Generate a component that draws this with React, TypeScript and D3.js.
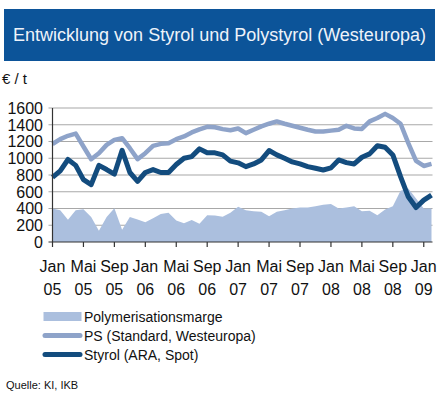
import React, { useEffect, useRef } from 'react';
import * as d3 from 'd3';

// monthly values, Jan 05 .. Feb 09
const psValues = [
  1170, 1228, 1268, 1295, 1140, 988, 1060, 1160, 1220, 1240, 1120, 990,
  1060, 1148, 1172, 1180, 1228, 1260, 1308, 1345, 1375, 1370, 1348, 1335,
  1355, 1300, 1340, 1380, 1412, 1440, 1412, 1388, 1364, 1340, 1320, 1320,
  1330, 1340, 1388, 1356, 1350, 1440, 1480, 1530, 1480, 1412, 1180, 968,
  908, 932,
];

const styrolValues = [
  772, 850, 985, 915, 745, 685, 915, 865, 810, 1095, 830, 725,
  830, 865, 830, 830, 925, 1000, 1020, 1112, 1065, 1065, 1040, 965,
  945, 900, 932, 980, 1092, 1040, 1000, 956, 932, 900, 880, 860,
  885, 980, 948, 932, 1012, 1052, 1150, 1132, 1040, 780, 540, 412,
  500, 560,
];

const margeValues = [
  400, 380, 265, 380, 390, 300, 135, 300, 402, 145, 300, 270,
  235, 283, 335, 350, 258, 225, 262, 218, 320, 315, 302, 348,
  420, 380, 368, 360, 308, 360, 380, 400, 412, 412, 428, 444,
  455, 400, 412, 428, 368, 372, 320, 388, 428, 612, 640, 520,
  400, 400,
];

const tickMonths = ['Jan', 'Mai', 'Sep', 'Jan', 'Mai', 'Sep', 'Jan', 'Mai', 'Sep', 'Jan', 'Mai', 'Sep', 'Jan'];
const tickYears = ['05', '05', '05', '06', '06', '06', '07', '07', '07', '08', '08', '08', '09'];
const yTicks = [0, 200, 400, 600, 800, 1000, 1200, 1400, 1600];

const legendItems = [
  { label: 'Polymerisationsmarge', kind: 'area', color: '#abbfde' },
  { label: 'PS (Standard, Westeuropa)', kind: 'line', color: '#8ea3c9' },
  { label: 'Styrol (ARA, Spot)', kind: 'line', color: '#134c7e' },
];

const App: React.FC = () => {
  const svgRef = useRef<SVGSVGElement>(null);

  useEffect(() => {
    if (!svgRef.current) return;
    const svg = d3.select(svgRef.current);
    svg.selectAll('*').remove();

    const font = 'Arial, "Liberation Sans", sans-serif';
    const left = 52.5;
    const right = 432.5;
    const top = 108;
    const bottom = 242;

    const x = d3.scaleLinear().domain([0, 49]).range([left, 431.5]);
    const y = d3.scaleLinear().domain([0, 1600]).range([bottom, top]);

    // title bar
    svg.append('rect')
      .attr('x', 4).attr('y', 9).attr('width', 431).attr('height', 52)
      .attr('fill', '#0c5499');
    svg.append('text')
      .attr('x', 219.5).attr('y', 41)
      .attr('text-anchor', 'middle')
      .attr('font-family', font).attr('font-size', 18)
      .attr('fill', '#eef3fa')
      .text('Entwicklung von Styrol und Polystyrol (Westeuropa)');

    svg.append('text')
      .attr('x', 2).attr('y', 84)
      .attr('font-family', font).attr('font-size', 15)
      .attr('fill', '#111')
      .text('€ / t');

    // gridlines
    svg.append('g')
      .selectAll('line')
      .data(yTicks.filter(d => d > 0))
      .join('line')
      .attr('x1', left - 4).attr('x2', right)
      .attr('y1', d => y(d)).attr('y2', d => y(d))
      .attr('stroke', '#a8a8a8').attr('stroke-width', 1.2);

    // margin area
    const area = d3.area<number>()
      .x((_, i) => x(i))
      .y0(y(0))
      .y1(d => y(d));
    svg.append('path')
      .datum(margeValues)
      .attr('d', area)
      .attr('fill', '#abbfde');

    const line = d3.line<number>()
      .x((_, i) => x(i))
      .y(d => y(d));

    svg.append('path')
      .datum(psValues)
      .attr('d', line)
      .attr('fill', 'none')
      .attr('stroke', '#8ea3c9')
      .attr('stroke-width', 4.5)
      .attr('stroke-linejoin', 'round');

    svg.append('path')
      .datum(styrolValues)
      .attr('d', line)
      .attr('fill', 'none')
      .attr('stroke', '#134c7e')
      .attr('stroke-width', 5)
      .attr('stroke-linejoin', 'round');

    // axes
    svg.append('line')
      .attr('x1', left).attr('x2', left).attr('y1', top).attr('y2', bottom)
      .attr('stroke', '#333').attr('stroke-width', 1.2);
    svg.append('line')
      .attr('x1', left - 4).attr('x2', right).attr('y1', bottom).attr('y2', bottom)
      .attr('stroke', '#333').attr('stroke-width', 1.2);

    svg.append('g')
      .selectAll('text')
      .data(yTicks)
      .join('text')
      .attr('x', 43).attr('y', d => y(d))
      .attr('dy', '0.36em')
      .attr('text-anchor', 'end')
      .attr('font-family', font).attr('font-size', 16)
      .attr('fill', '#111')
      .text(d => d);

    const tickIdx = tickMonths.map((_, i) => i * 4);
    const xt = svg.append('g');
    xt.selectAll('line')
      .data(tickIdx)
      .join('line')
      .attr('x1', d => x(d)).attr('x2', d => x(d))
      .attr('y1', bottom).attr('y2', bottom + 5)
      .attr('stroke', '#333').attr('stroke-width', 1.2);
    xt.selectAll('text.m')
      .data(tickIdx)
      .join('text')
      .attr('class', 'm')
      .attr('x', d => x(d)).attr('y', 271.5)
      .attr('text-anchor', 'middle')
      .attr('font-family', font).attr('font-size', 16)
      .attr('fill', '#111')
      .text((_, i) => tickMonths[i]);
    xt.selectAll('text.yr')
      .data(tickIdx)
      .join('text')
      .attr('class', 'yr')
      .attr('x', d => x(d)).attr('y', 294.5)
      .attr('text-anchor', 'middle')
      .attr('font-family', font).attr('font-size', 16)
      .attr('fill', '#111')
      .text((_, i) => tickYears[i]);

    // legend
    const lg = svg.append('g');
    legendItems.forEach((item, i) => {
      const cy = 316.5 + i * 19;
      if (item.kind === 'area') {
        lg.append('rect')
          .attr('x', 43.5).attr('y', cy - 4.5).attr('width', 38).attr('height', 9)
          .attr('fill', item.color);
      } else {
        lg.append('line')
          .attr('x1', 45).attr('x2', 80).attr('y1', cy).attr('y2', cy)
          .attr('stroke', item.color).attr('stroke-width', 5)
          .attr('stroke-linecap', 'round');
      }
      lg.append('text')
        .attr('x', 84).attr('y', cy + 5)
        .attr('font-family', font).attr('font-size', 14)
        .attr('fill', '#111')
        .text(item.label);
    });

    svg.append('text')
      .attr('x', 6).attr('y', 389)
      .attr('font-family', font).attr('font-size', 11)
      .attr('fill', '#111')
      .text('Quelle: KI, IKB');
  }, []);

  return (
    <svg
      ref={svgRef}
      width={442}
      height={400}
      style={{ position: 'absolute', left: 0, top: 0, background: '#fff' }}
    />
  );
};

export default App;
